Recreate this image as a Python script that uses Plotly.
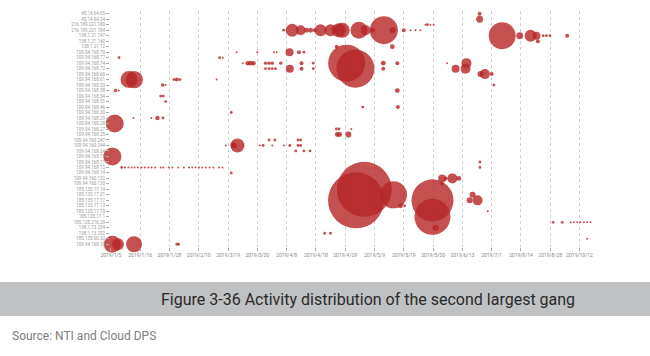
import plotly.graph_objects as go

# Y categories (source IPs), top to bottom
ips = [
    "45.14.64.65", "45.14.64.24", "216.189.221.180", "216.189.221.184",
    "138.1.21.147", "138.1.21.140", "138.1.21.12", "109.94.168.70",
    "109.94.168.77", "109.94.168.74", "109.94.168.72", "109.94.168.60",
    "109.94.168.61", "109.94.168.53", "109.94.168.58", "109.94.168.54",
    "109.94.168.51", "109.94.168.46", "109.94.168.30", "109.94.168.29",
    "109.94.168.28", "109.94.168.27", "109.94.168.25", "109.94.160.247",
    "109.94.160.244", "109.94.168.24", "109.94.168.19", "109.94.168.17",
    "109.94.168.15", "109.94.168.14", "109.94.160.132", "109.94.160.130",
    "185.135.17.14", "185.135.17.21", "185.135.17.12", "185.135.17.13",
    "185.135.17.10", "185.135.17.1", "185.135.216.29", "138.1.13.254",
    "138.1.13.252", "185.135.60.32", "109.94.168.10",
]

# X tick labels (activity-day index every 10 days)
date_tick_pos = [0, 10, 20, 30, 40, 50, 60, 70, 80, 90, 100, 110, 120, 130, 140, 150, 160]
date_tick_text = [
    "2019/1/5", "2019/1/16", "2019/1/28", "2019/2/10", "2019/3/19", "2019/3/30",
    "2019/4/8", "2019/4/18", "2019/4/29", "2019/5/9", "2019/5/19", "2019/5/30",
    "2019/6/13", "2019/7/1", "2019/8/14", "2019/8/28", "2019/10/12",
]

# Activity records: row index into ips, activity-day index, activity count
act_row = (
    [0, 1]
    + [2] * 4
    + [3] * 19
    + [4] * 8
    + [5]
    + [6] * 2
    + [7] * 7
    + [8] * 3
    + [9] * 15
    + [10] * 11
    + [11] * 3
    + [12] * 6
    + [13] * 3
    + [14] * 3
    + [15] * 2
    + [16]
    + [17] * 2
    + [18]
    + [19] * 4
    + [20]
    + [21] * 3
    + [22] * 3
    + [23] * 4
    + [24] * 12
    + [25] * 3
    + [26]
    + [27]
    + [28] * 28
    + [29]
    + [30] * 4
    + [31]
    + [32]
    + [33] * 2
    + [34] * 4
    + [35] * 2
    + [36]
    + [37]
    + [38] * 9
    + [39]
    + [40] * 2
    + [41]
    + [42] * 5
)
act_day = [
    125.9, 125.9,
    107.4, 108.1, 109.1, 110.2,
    59.0, 61.9, 64.8, 66.8, 68.2, 69.6, 71.6, 75.0, 77.8, 79.0, 84.7, 87.0, 89.4, 93.2, 96.2, 100.0, 102.3, 104.0, 105.7,
    133.6, 139.6, 143.3, 145.3, 147.6, 148.7, 149.9, 155.8,
    145.8,
    77.1, 96.1,
    42.9, 50.0, 55.7, 56.6, 61.0, 64.2, 65.9,
    2.8, 37.1, 38.2,
    45.0, 46.7, 47.7, 48.7, 52.8, 54.0, 55.1, 58.0, 65.1, 69.1, 80.5, 93.0, 97.8, 114.8, 121.4,
    52.8, 54.0, 55.1, 56.2, 61.1, 65.1, 69.1, 83.5, 93.0, 117.7, 121.1,
    127.7, 126.2, 130.0,
    6.2, 8.0, 21.5, 22.5, 23.6, 36.1,
    17.7, 18.7, 130.8,
    1.6, 2.7, 97.8,
    17.0, 17.9,
    18.7,
    86.0, 98.0,
    41.1,
    7.7, 13.8, 15.9, 17.8,
    1.3,
    77.0, 77.9, 82.1,
    77.3, 78.1, 81.1,
    54.0, 56.0, 63.9, 64.8,
    39.2, 41.6, 43.2, 42.0, 45.2, 50.8, 52.0, 55.1, 59.1, 61.1, 63.9, 64.8,
    63.1, 65.9, 68.0,
    0.5,
    126.0,
    3.7, 4.8, 6.0, 7.1, 8.1, 9.2, 10.5, 11.6, 12.8, 13.9, 15.1, 17.0, 17.9, 19.8,
    21.0, 23.0, 24.9, 26.7, 27.8, 28.9, 30.1, 31.2, 32.4, 33.7, 35.0, 36.9, 38.1, 126.0,
    41.1,
    113.1, 114.3, 116.6, 118.8,
    113.1,
    86.5,
    96.5, 123.5,
    83.7, 109.8, 122.5, 125.2,
    98.9, 100.3,
    128.7,
    109.8,
    151.0, 154.1, 157.0, 158.1, 159.2, 160.3, 161.5, 162.6, 163.8,
    110.9,
    73.0, 75.0,
    162.6,
    0.5, 2.4, 7.9, 22.5, 23.1,
]
act_count = [
    4, 12,
    1, 2, 1, 1,
    2, 42, 25, 6, 6, 4, 36, 36, 49, 56, 72, 25, 6, 196, 9, 4, 1, 1, 1,
    182, 12, 36, 16, 2, 2, 2, 4,
    4,
    4, 6,
    1, 1, 1, 1, 16, 4, 2,
    2, 2, 1,
    1, 5, 6, 5, 3, 3, 3, 3, 4, 2, 342, 6, 4, 1, 25,
    2, 2, 2, 2, 16, 4, 2, 361, 4, 16, 25,
    25, 9, 4,
    72, 75, 2, 4, 2, 1,
    3, 1, 2,
    3, 1, 6,
    2, 2,
    2,
    2, 4,
    2,
    1, 1, 5, 2,
    81,
    2, 2, 1,
    6, 6, 9,
    2, 2, 2, 2,
    1, 1, 49, 9, 1, 1, 2, 1, 1, 2, 2, 2,
    2, 2, 2,
    81,
    2,
    2, 1, 1, 1, 1, 1, 1, 1, 1, 1, 1, 1, 1, 1,
    1, 1, 1, 1, 1, 1, 1, 1, 1, 1, 1, 1, 1, 2,
    2,
    16, 4, 25, 6,
    3,
    756,
    182, 9,
    784, 441, 9, 25,
    6, 2,
    1,
    324,
    2, 2, 1, 1, 1, 1, 1, 1, 1,
    9,
    2, 2,
    1,
    72, 36, 64, 2, 2,
]

assert len(act_row) == len(act_day) == len(act_count)

fig = go.Figure()
fig.add_trace(go.Scatter(
    x=act_day,
    y=[ips[r] for r in act_row],
    mode="markers",
    cliponaxis=False,
    hoverinfo="skip",
    marker=dict(
        size=act_count,
        sizemode="area",
        sizeref=0.5,
        sizemin=0,
        color="#b52424",
        opacity=0.8,
        line=dict(width=0),
    ),
))

L, R, T, B = 110, 50, 11, 109
W, H = 650, 356
pw, ph = W - L - R, H - T - B


def px_x(px):
    return (px - L) / pw


def px_y(py):
    return (H - B - py) / ph


fig.update_layout(
    width=W, height=H,
    margin=dict(l=L, r=R, t=T, b=B, pad=0),
    paper_bgcolor="white", plot_bgcolor="white",
    showlegend=False,
    font=dict(family="Roboto", color="#888"),
    xaxis=dict(
        range=[-0.3, 167],
        tickmode="array", tickvals=date_tick_pos, ticktext=date_tick_text,
        tickfont=dict(size=5, color="#888"),
        showgrid=True, gridcolor="#cfcfcf", griddash="dot", gridwidth=1,
        zeroline=False, showline=False,
        ticks="outside", ticklen=3, tickcolor="#aaa", tickwidth=0.6,
    ),
    yaxis=dict(
        type="category", categoryorder="array", categoryarray=ips,
        tickmode="array", tickvals=ips, ticktext=ips,
        range=[42.5, -0.5],
        tickfont=dict(size=4.5, color="#999"),
        showgrid=False, zeroline=False, showline=False,
        ticks="outside", ticklen=3, tickcolor="#aaa", tickwidth=0.6,
    ),
    shapes=[dict(
        type="rect", xref="paper", yref="paper",
        x0=px_x(0), x1=px_x(W), y0=px_y(316), y1=px_y(282),
        fillcolor="#c0c1c3", line=dict(width=0), layer="below",
    )],
    annotations=[
        dict(text="Figure 3-36 Activity distribution of the second largest gang",
             xref="paper", yref="paper", x=px_x(368), y=px_y(299),
             xanchor="center", yanchor="middle", showarrow=False,
             font=dict(family="Roboto", size=16, color="#2a2a2a")),
        dict(text="Source: NTI and Cloud DPS",
             xref="paper", yref="paper", x=px_x(10), y=px_y(336),
             xanchor="left", yanchor="middle", showarrow=False,
             font=dict(family="Roboto", size=12, color="#808080")),
    ],
)

fig.write_html(
    "out.html",
    config={"displayModeBar": False},
    post_script="document.body.style.margin='0';document.body.style.overflow='hidden';",
)
